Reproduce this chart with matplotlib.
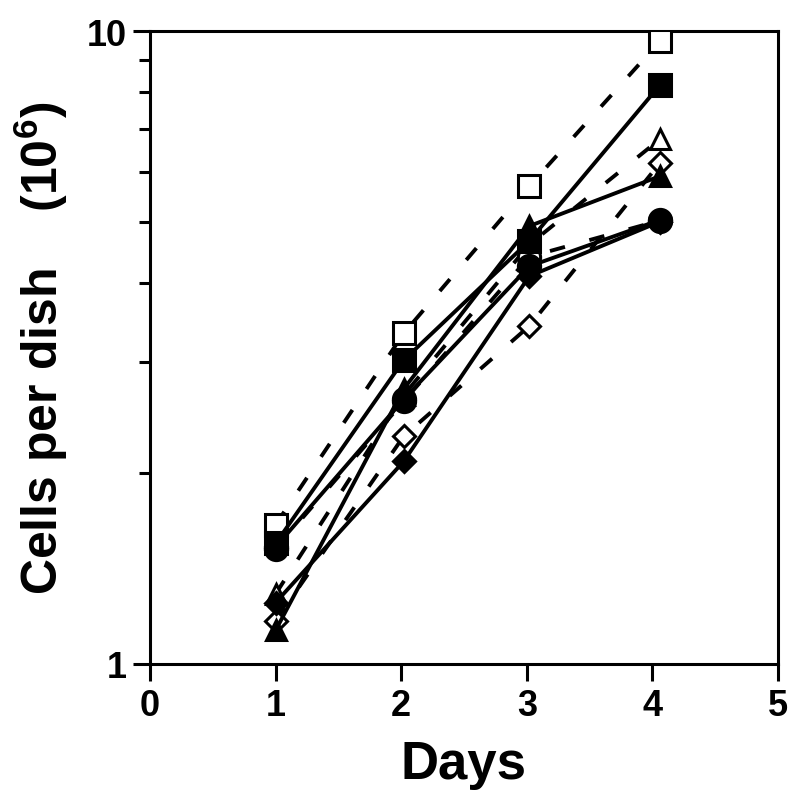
import matplotlib
matplotlib.use("Agg")
import matplotlib.pyplot as plt
from matplotlib.ticker import FixedLocator, NullFormatter

plt.rcParams['font.family'] = ['Liberation Sans', 'DejaVu Sans']
plt.rcParams['font.weight'] = 'bold'
plt.rcParams['mathtext.fontset'] = 'custom'
plt.rcParams['mathtext.rm'] = 'Liberation Sans:bold'
plt.rcParams['mathtext.bf'] = 'Liberation Sans:bold'

days = [1, 2.02, 3.02, 4.06]

open_square = [1.66, 3.33, 5.69, 9.64]
filled_square = [1.55, 3.02, 4.66, 8.22]
open_triangle = [1.29, 2.66, 4.60, 6.75]
filled_triangle = [1.13, 2.72, 4.92, 5.90]
open_diamond = [1.17, 2.29, 3.42, 6.19]
filled_diamond = [1.25, 2.09, 4.10, 5.00]
open_circle = [1.52, 2.60, 4.40, 5.02]
filled_circle = [1.53, 2.62, 4.25, 5.03]

x_ticks = [0, 1, 2, 3, 4, 5]
y_ticks = [1, 10]
y_minor = [2, 3, 4, 5, 6, 7, 8, 9]

fig = plt.figure(figsize=(8, 8.04), dpi=100)
ax = fig.add_axes([0.1875, 0.173, 0.785, 0.787])

dash = (0, (4.0, 6.5))
series = [
    (open_square, 's', 'white', dash),
    (open_triangle, '^', 'white', dash),
    (open_diamond, 'D', 'white', dash),
    (open_circle, 'o', 'white', dash),
    (filled_diamond, 'D', 'black', '-'),
    (filled_triangle, '^', 'black', '-'),
    (filled_square, 's', 'black', '-'),
    (filled_circle, 'o', 'black', '-'),
]
for vals, mk, fc, ls in series:
    ms = 16 if mk in ('s', 'o') else (14 if mk == '^' else 11)
    ax.plot(days, vals, linestyle=ls, color='black', linewidth=2.8,
            marker=mk, markersize=ms, markerfacecolor=fc,
            markeredgecolor='black', markeredgewidth=2.2, zorder=3)

ax.set_yscale('log')
ax.set_xlim(0, 5)
ax.set_ylim(1, 10)
ax.set_xticks(x_ticks)
ax.set_xticklabels([str(t) for t in x_ticks])
ax.yaxis.set_major_locator(FixedLocator(y_ticks))
ax.set_yticklabels([str(t) for t in y_ticks])
ax.yaxis.set_minor_locator(FixedLocator(y_minor))
ax.yaxis.set_minor_formatter(NullFormatter())

for s in ax.spines.values():
    s.set_linewidth(2.2)
ax.tick_params(axis='both', which='major', direction='out', length=12,
               width=2.2, labelsize=26, pad=5)
ax.tick_params(axis='y', which='minor', direction='out', length=8, width=2.2)
for lab in ax.get_xticklabels() + ax.get_yticklabels():
    lab.set_fontweight('bold')

ax.set_xlabel('Days', fontsize=38, fontweight='bold', labelpad=12)
ax.set_ylabel('Cells per dish    (10$^{6}$)', fontsize=36, fontweight='bold', labelpad=12)

fig.savefig('out.png', dpi=100)
